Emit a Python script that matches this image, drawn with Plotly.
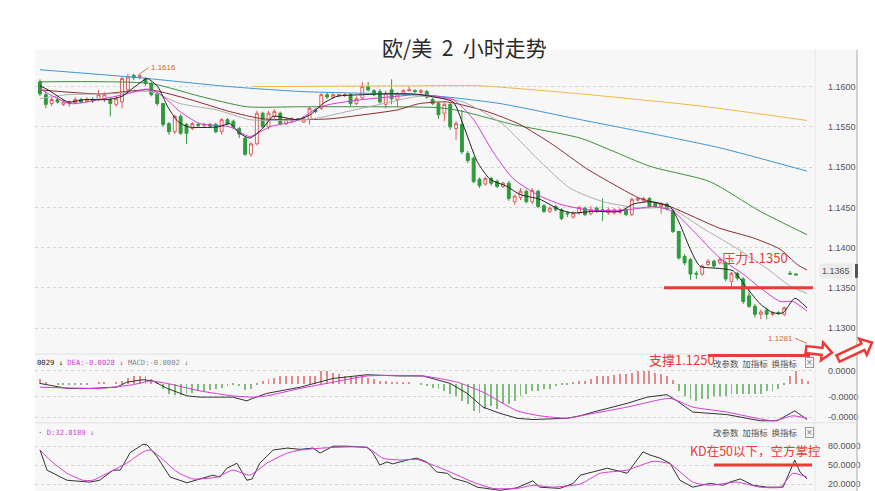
import math
import plotly.graph_objects as go

# ---------------- data ----------------
opens = [1.1606,1.1590,1.1579,1.1584,1.1578,1.1579,1.1580,1.1584,1.1582,1.1584,
         1.1584,1.1584,1.1584,1.1578,1.1581,1.1596,1.1614,1.1611,1.1610,1.1604,
         1.1591,1.1579,1.1554,1.1544,1.1563,1.1553,1.1548,1.1553,1.1552,1.1553,
         1.1553,1.1544,1.1559,1.1557,1.1548,1.1536,1.1516,1.1529,1.1567,1.1550,
         1.1563,1.1567,1.1554,1.1557,1.1560,1.1556,1.1559,1.1571,1.1573,1.1590,
         1.1587,1.1589,1.1589,1.1590,1.1579,1.1586,1.1600,1.1595,1.1594,1.1578,
         1.1596,1.1584,1.1590,1.1595,1.1595,1.1593,1.1594,1.1584,1.1579,1.1567,
         1.1578,1.1548,1.1553,1.1517,1.1511,1.1485,1.1479,1.1486,1.1482,1.1476,
         1.1480,1.1457,1.1462,1.1470,1.1457,1.1470,1.1452,1.1445,1.1451,1.1447,
         1.1443,1.1438,1.1443,1.1449,1.1442,1.1449,1.1447,1.1443,1.1443,1.1444,
         1.1447,1.1441,1.1459,1.1458,1.1461,1.1455,1.1451,1.1454,1.1445,1.1420,
         1.1389,1.1385,1.1368,1.1367,1.1379,1.1383,1.1381,1.1381,1.1358,1.1368,
         1.1361,1.1340,1.1327,1.1317,1.1322,1.1317,1.1319,1.1317,1.1368,1.1367]
highs = [1.1609,1.1594,1.1587,1.1587,1.1584,1.1583,1.1587,1.1586,1.1587,1.1587,
         1.1596,1.1593,1.1587,1.1588,1.1612,1.1616,1.1616,1.1616,1.1612,1.1606,
         1.1593,1.1580,1.1556,1.1565,1.1566,1.1555,1.1556,1.1555,1.1555,1.1555,
         1.1555,1.1561,1.1561,1.1559,1.1550,1.1538,1.1531,1.1570,1.1569,1.1570,
         1.1572,1.1569,1.1561,1.1562,1.1561,1.1563,1.1575,1.1573,1.1592,1.1593,
         1.1592,1.1591,1.1592,1.1592,1.1588,1.1606,1.1606,1.1597,1.1597,1.1595,
         1.1609,1.1593,1.1597,1.1600,1.1597,1.1597,1.1596,1.1586,1.1581,1.1580,
         1.1580,1.1557,1.1571,1.1520,1.1513,1.1487,1.1488,1.1488,1.1485,1.1482,
         1.1483,1.1466,1.1474,1.1472,1.1474,1.1472,1.1454,1.1451,1.1453,1.1449,
         1.1445,1.1445,1.1452,1.1451,1.1452,1.1451,1.1461,1.1450,1.1449,1.1449,
         1.1449,1.1462,1.1463,1.1463,1.1463,1.1457,1.1456,1.1456,1.1447,1.1421,
         1.1392,1.1387,1.1371,1.1379,1.1386,1.1385,1.1388,1.1383,1.1370,1.1370,
         1.1363,1.1350,1.1330,1.1323,1.1325,1.1321,1.1321,1.1327,1.1371,1.1368]
lows = [1.1588,1.1573,1.1576,1.1579,1.1576,1.1575,1.1578,1.1579,1.1580,1.1580,
        1.1582,1.1581,1.1563,1.1575,1.1573,1.1594,1.1608,1.1609,1.1601,1.1588,
        1.1576,1.1550,1.1540,1.1541,1.1540,1.1529,1.1546,1.1550,1.1550,1.1549,
        1.1542,1.1540,1.1552,1.1548,1.1536,1.1514,1.1513,1.1527,1.1548,1.1547,
        1.1560,1.1552,1.1552,1.1555,1.1558,1.1555,1.1553,1.1567,1.1571,1.1585,
        1.1585,1.1587,1.1587,1.1576,1.1577,1.1584,1.1594,1.1588,1.1579,1.1573,
        1.1578,1.1575,1.1588,1.1594,1.1592,1.1591,1.1585,1.1577,1.1560,1.1557,
        1.1546,1.1534,1.1516,1.1505,1.1480,1.1474,1.1477,1.1477,1.1474,1.1474,
        1.1458,1.1453,1.1459,1.1455,1.1454,1.1449,1.1443,1.1443,1.1445,1.1434,
        1.1438,1.1436,1.1441,1.1439,1.1440,1.1443,1.1433,1.1441,1.1441,1.1442,
        1.1439,1.1439,1.1457,1.1456,1.1449,1.1449,1.1442,1.1446,1.1418,1.1385,
        1.1378,1.1360,1.1361,1.1365,1.1377,1.1375,1.1379,1.1358,1.1350,1.1359,
        1.1330,1.1325,1.1313,1.1311,1.1311,1.1315,1.1316,1.1315,1.1367,1.1366]
closes = [1.1591,1.1578,1.1584,1.1581,1.1581,1.1581,1.1584,1.1581,1.1584,1.1582,
          1.1590,1.1590,1.1579,1.1585,1.1610,1.1612,1.1611,1.1614,1.1604,1.1590,
          1.1579,1.1553,1.1544,1.1563,1.1542,1.1542,1.1554,1.1552,1.1553,1.1551,
          1.1544,1.1559,1.1554,1.1550,1.1541,1.1516,1.1529,1.1567,1.1550,1.1567,
          1.1569,1.1554,1.1559,1.1560,1.1559,1.1560,1.1573,1.1569,1.1590,1.1587,
          1.1590,1.1590,1.1590,1.1579,1.1585,1.1600,1.1596,1.1590,1.1581,1.1592,
          1.1585,1.1591,1.1595,1.1596,1.1594,1.1595,1.1587,1.1579,1.1565,1.1578,
          1.1550,1.1554,1.1519,1.1508,1.1482,1.1477,1.1486,1.1480,1.1476,1.1480,
          1.1461,1.1464,1.1470,1.1457,1.1471,1.1451,1.1445,1.1449,1.1447,1.1436,
          1.1442,1.1443,1.1450,1.1441,1.1447,1.1445,1.1445,1.1447,1.1447,1.1447,
          1.1441,1.1460,1.1461,1.1461,1.1451,1.1451,1.1454,1.1448,1.1420,1.1387,
          1.1381,1.1367,1.1367,1.1377,1.1383,1.1377,1.1385,1.1361,1.1368,1.1362,
          1.1333,1.1327,1.1317,1.1320,1.1317,1.1319,1.1318,1.1325,1.1367,1.1366]
candle_idx = list(range(len(opens)))

# moving-average lines, sampled (bar index, price)
ma5_x = [0,1.4,4.8,7.7,11.6,14,16.2,18.3,20.1,21.8,23.5,25.3,30.4,32.4,34.1,35.8,38,39.8,43.9,46.1,48.3,50.7,55.1,58.5,63.7,66.6,70.5,72.2,74.6,76.8,79.7,81.9,85.3,88.7,91,94.4,99,101.2,104.1,107.5,109.2,110.9,112.6,116,118.3,120.6,122.9,125.1,126.8,128.8,130.9]
ma5_y = [1.1601,1.1596,1.1581,1.1584,1.1584,1.1588,1.1600,1.1610,1.1600,1.1575,1.1557,1.1550,1.1550,1.1554,1.1542,1.1536,1.1548,1.1563,1.1559,1.1565,1.1579,1.1588,1.1590,1.1591,1.1591,1.1588,1.1581,1.1553,1.1507,1.1485,1.1476,1.1466,1.1460,1.1447,1.1443,1.1445,1.1445,1.1454,1.1457,1.1451,1.1429,1.1399,1.1377,1.1374,1.1371,1.1350,1.1330,1.1319,1.1319,1.1337,1.1325]
ma10_x = [0,5.1,10.2,14.8,18.3,20.5,23.9,27.3,32.4,35.8,39.2,43.9,47.3,49.5,55.1,60.9,64.8,70.5,73.9,77.3,80.7,84.8,88.7,93.3,99,102.4,104.6,108,112.1,116,120,122.9,126.3,128.5,130.9]
ma10_y = [1.1597,1.1579,1.1584,1.1591,1.1597,1.1591,1.1569,1.1554,1.1550,1.1538,1.1550,1.1558,1.1573,1.1578,1.1584,1.1588,1.1590,1.1584,1.1560,1.1519,1.1486,1.1466,1.1454,1.1447,1.1446,1.1449,1.1451,1.1445,1.1416,1.1387,1.1367,1.1350,1.1333,1.1333,1.1321]
ma20_x = [0,4.6,11.9,18.8,23.9,30.2,35.8,41,46.6,52.4,58,64.8,72.2,79,84.8,90.4,96.1,102.4,107.5,113.1,118.9,124.6,128,130.9]
ma20_y = [1.1585,1.1590,1.1591,1.1594,1.1579,1.1571,1.1559,1.1558,1.1560,1.1569,1.1578,1.1588,1.1581,1.1553,1.1511,1.1474,1.1457,1.1449,1.1449,1.1424,1.1399,1.1371,1.1352,1.1343]
ma30_x = [0,10.2,18.8,25.6,32.4,38,43.9,49.5,55.1,60.9,64.8,69.5,76.3,81.9,87.5,93.3,99,102.4,107.5,116,121.7,126.3,129.2,130.9]
ma30_y = [1.1596,1.1591,1.1596,1.1584,1.1569,1.1560,1.1559,1.1560,1.1565,1.1571,1.1579,1.1581,1.1569,1.1553,1.1528,1.1498,1.1474,1.1461,1.1451,1.1424,1.1412,1.1398,1.1379,1.1372]
ma60_x = [0,18.8,27.3,35.3,44.4,67.7,71.7,80.7,92.2,104.1,114.3,122.9,130.9]
ma60_y = [1.1606,1.1604,1.1588,1.1575,1.1575,1.1574,1.1570,1.1553,1.1536,1.1501,1.1482,1.1445,1.1416]
ma120_x = [0,17.1,32.4,44.4,66.6,78.5,92.2,104.1,116,130.9]
ma120_y = [1.1621,1.1611,1.1600,1.1594,1.1589,1.1579,1.1559,1.1542,1.1524,1.1495]
ma250_x = [36.3,63.7,75.1,92.2,112.6,130.9]
ma250_y = [1.1600,1.1601,1.1601,1.1591,1.1576,1.1558]

price_ticks = [1.1300,1.1350,1.1400,1.1450,1.1500,1.1550,1.1600]
price_labels = ['1.1300','1.1350','1.1400','1.1450','1.1500','1.1550','1.1600']

# MACD panel
macd_hist = [0.0004,0.0001,0.0,-0.0001,-0.0001,-0.0001,-0.0001,-0.0001,-0.0001,0.0,
             0.0001,0.0001,0.0,0.0001,0.0002,0.0005,0.0006,0.0006,0.0006,0.0004,
             0.0001,-0.0004,-0.0008,-0.0009,-0.0009,-0.0008,-0.0007,-0.0006,-0.0006,-0.0005,
             -0.0004,-0.0003,-0.0002,-0.0001,-0.0002,-0.0005,-0.0004,-0.0001,0.0002,0.0004,
             0.0005,0.0006,0.0006,0.0006,0.0006,0.0006,0.0006,0.0006,0.0010,0.0010,
             0.0009,0.0008,0.0006,0.0006,0.0006,0.0006,0.0005,0.0004,0.0002,0.0002,
             0.0001,0.0001,0.0001,0.0001,0.0,-0.0001,-0.0002,-0.0003,-0.0004,-0.0006,
             -0.0008,-0.0010,-0.0014,-0.0016,-0.0022,-0.0023,-0.0020,-0.0018,-0.0020,-0.0016,
             -0.0016,-0.0014,-0.0010,-0.0008,-0.0006,-0.0006,-0.0004,-0.0004,-0.0002,-0.0001,
             -0.0001,0.0001,0.0002,0.0002,0.0004,0.0006,0.0006,0.0006,0.0007,0.0008,
             0.0008,0.0009,0.0010,0.0010,0.0010,0.0009,0.0008,0.0006,0.0003,-0.0006,
             -0.0010,-0.0012,-0.0014,-0.0012,-0.0012,-0.0010,-0.0010,-0.0010,-0.0008,-0.0008,
             -0.0008,-0.0008,-0.0008,-0.0008,-0.0006,-0.0006,-0.0004,-0.0001,0.0006,0.0010,
             0.0004,0.0002]
hist_idx = list(range(len(macd_hist)))
dif_x = [0,4.6,8.5,13.1,14.8,17.6,19.3,21.7,25.1,27.3,32.9,35.3,36.3,38.7,44.4,50,55.8,61.4,65.4,70,72.9,75.6,78.5,81.4,84.1,89.9,92.2,94.4,100.2,103.6,107,108.7,111.4,117.2,122.9,125.8,128.8,130.9]
dif_y = [0.0,-0.0004,-0.0004,-0.0003,0.0001,0.0003,0.0002,-0.0004,-0.0010,-0.0011,-0.0011,-0.0014,-0.0012,-0.0008,-0.0003,0.0004,0.0007,0.0006,0.0006,0.0,-0.0008,-0.0019,-0.0024,-0.0028,-0.0029,-0.0028,-0.0026,-0.0023,-0.0016,-0.0011,-0.0009,-0.0014,-0.0023,-0.0025,-0.0030,-0.0030,-0.0022,-0.0029]
dea_x = [0,10.2,15.9,18.8,21.7,27.3,32.9,36.3,38.7,44.4,50,55.8,65.4,71.2,75.6,81.4,85.3,89.9,92.2,100.2,107.5,111.4,117.2,125.1,128.5,130.9]
dea_y = [-0.0003,-0.0004,-0.0001,0.0002,0.0,-0.0006,-0.0010,-0.0011,-0.0010,-0.0004,0.0001,0.0006,0.0006,0.0001,-0.0007,-0.0022,-0.0026,-0.0028,-0.0026,-0.0019,-0.0012,-0.0019,-0.0023,-0.0030,-0.0026,-0.0028]
macd_ticks = [0.00104,-0.00104,-0.00272]
macd_labels = ['0.0000','-0.0000','-0.0000']

# KD panel
k_x = [0,1.2,4.6,8.5,10.2,12.5,13.7,15.4,17.6,18.3,20,22.2,25.1,29.5,30.7,31.9,33.6,35.3,36.2,37.5,39.8,42.2,44.4,46.6,47.8,50,52.4,55.8,56.7,58,59.2,60.2,63.1,64.3,66,67.7,69.5,70.5,72.9,74.6,78.5,81.4,84.1,85.3,88.7,91,92.2,94.4,96.8,99,100.2,102.9,104.1,105.8,107.5,109.2,111.4,114.3,116.6,117.7,119.5,121.7,124.1,126.8,128.8,129.7,130.9]
k_y = [74,42,26,23,26,42,42,70,83,82,63,31,22,34,31,45,53,26,28,53,74,77,75,77,69,80,80,78,71,50,55,52,59,61,55,39,37,29,23,15,10,14,25,15,13,21,34,39,45,40,37,71,66,61,53,26,15,21,18,23,28,18,15,15,58,39,28]
d_x = [0,1.7,4.6,7.3,9,11.9,14.8,17.6,18.8,20.5,23.4,26.1,30.2,32.9,35.8,38.7,42.2,44.4,50,55.8,58.5,61.4,64.3,67.1,70,73.9,77.3,81.4,84.1,87.5,92.2,95.6,100.2,104.6,107.5,111.4,114.3,118.9,122.9,126.3,128.5,130.9]
d_y = [74,58,37,26,26,39,53,71,74,63,39,28,31,42,34,53,69,74,78,78,61,58,59,50,39,23,13,13,18,15,20,37,42,56,52,23,18,23,15,15,37,31]
kd_ticks = [80,50,20]
kd_labels = ['80.0000','50.0000','20.0000']

last_price = 1.1365
high_mark = (17, 1.1616)
low_mark = (130.9, 1.1281)
resist_level = 1.1350
kd_level = 50

# ---------------- geometry helpers ----------------
W, H = 875, 491
ML, MR = 35, 60
PW = W - ML - MR


def px(x):
    return (x - ML) / PW


def py(y):
    return 1 - y / H


def xi(x):  # pixel x -> bar index
    return (x - 40) / 5.86


RED = '#ec3b36'
MAG = '#d43ad4'
GRID = '#d4d4d4'
LBL = dict(family='Liberation Sans, Arial', size=9, color='#555')

fig = go.Figure()

fig.add_trace(go.Candlestick(
    x=candle_idx, open=opens, high=highs, low=lows, close=closes,
    increasing=dict(line=dict(color='#e05a5a', width=1), fillcolor='#ffffff'),
    decreasing=dict(line=dict(color='#2f9a3d', width=1), fillcolor='#2f9a3d'),
    whiskerwidth=0, hoverinfo='skip', showlegend=False, xaxis='x', yaxis='y'))

for xs, ys, col in [(ma250_x, ma250_y, '#f2b64a'), (ma120_x, ma120_y, '#3d95d6'),
                    (ma60_x, ma60_y, '#3c8f3c'), (ma30_x, ma30_y, '#8e2c2c'),
                    (ma20_x, ma20_y, '#adadad'), (ma10_x, ma10_y, MAG),
                    (ma5_x, ma5_y, '#222222')]:
    fig.add_trace(go.Scatter(x=xs, y=ys, mode='lines',
                             line=dict(color=col, width=1, shape='spline', smoothing=0.6),
                             hoverinfo='skip', showlegend=False, xaxis='x', yaxis='y'))

fig.add_trace(go.Bar(x=hist_idx, y=macd_hist, width=0.16,
                     marker=dict(color=['#e08a8a' if v >= 0 else '#80bb80' for v in macd_hist],
                                 line=dict(width=0)),
                     hoverinfo='skip', showlegend=False, xaxis='x', yaxis='y2'))
fig.add_trace(go.Scatter(x=dif_x, y=dif_y, mode='lines', line=dict(color='#333', width=1),
                         hoverinfo='skip', showlegend=False, xaxis='x', yaxis='y2'))
fig.add_trace(go.Scatter(x=dea_x, y=dea_y, mode='lines',
                         line=dict(color=MAG, width=1, shape='spline', smoothing=0.5),
                         hoverinfo='skip', showlegend=False, xaxis='x', yaxis='y2'))

fig.add_trace(go.Scatter(x=k_x, y=k_y, mode='lines', line=dict(color='#333', width=1),
                         hoverinfo='skip', showlegend=False, xaxis='x', yaxis='y3'))
fig.add_trace(go.Scatter(x=d_x, y=d_y, mode='lines',
                         line=dict(color=MAG, width=1, shape='spline', smoothing=0.5),
                         hoverinfo='skip', showlegend=False, xaxis='x', yaxis='y3'))

shapes = []
# chart background
shapes.append(dict(type='rect', xref='paper', yref='paper', x0=px(35), x1=px(857),
                   y0=py(491), y1=py(48), fillcolor='#f7f7f7', line=dict(width=0), layer='below'))
# vertical separators
shapes.append(dict(type='line', xref='paper', yref='paper', x0=px(815), x1=px(815),
                   y0=py(491), y1=py(48), line=dict(color='#e6e6e6', width=1)))
shapes.append(dict(type='line', xref='paper', yref='paper', x0=px(857), x1=px(857),
                   y0=py(491), y1=py(48), line=dict(color='#c4c4c4', width=1.5)))
# horizontal panel separators
for yy in (353.5, 422.5):
    shapes.append(dict(type='line', xref='paper', yref='paper', x0=px(35), x1=px(857),
                       y0=py(yy), y1=py(yy), line=dict(color='#e2e2e2', width=1)))
# last price marker
shapes.append(dict(type='rect', xref='paper', yref='paper', x0=px(855), x1=px(858),
                   y0=py(277), y1=py(263), fillcolor='#555', line=dict(width=0)))
# resistance / support / KD lines
shapes.append(dict(type='line', xref='x', yref='y', x0=xi(664), x1=xi(813),
                   y0=resist_level, y1=resist_level, line=dict(color=RED, width=3)))
shapes.append(dict(type='line', xref='x', yref='paper', x0=xi(708), x1=xi(810),
                   y0=py(355), y1=py(355), line=dict(color=RED, width=3)))
shapes.append(dict(type='line', xref='x', yref='y3', x0=xi(714), x1=xi(812),
                   y0=kd_level, y1=kd_level, line=dict(color=RED, width=3)))


def block_arrow(x0, y0, x1, y1, sw=3.5, hw=9, hl=10):
    dx, dy = x1 - x0, y1 - y0
    L = math.hypot(dx, dy)
    ux, uy = dx / L, dy / L
    nx, ny = -uy, ux
    bx, by = x1 - ux * hl, y1 - uy * hl
    pts = [(x0 + nx * sw, y0 + ny * sw), (bx + nx * sw, by + ny * sw),
           (bx + nx * hw, by + ny * hw), (x1, y1), (bx - nx * hw, by - ny * hw),
           (bx - nx * sw, by - ny * sw), (x0 - nx * sw, y0 - ny * sw)]
    return 'M ' + ' L '.join(f'{px(a):.4f},{py(b):.4f}' for a, b in pts) + ' Z'


shapes.append(dict(type='path', xref='paper', yref='paper', path=block_arrow(806, 349, 832, 352),
                   line=dict(color=RED, width=2.5), fillcolor='rgba(255,255,255,0.9)'))
shapes.append(dict(type='path', xref='paper', yref='paper', path=block_arrow(838, 358, 872, 342),
                   line=dict(color=RED, width=2.5), fillcolor='rgba(255,255,255,0.9)'))

ann = []


def note(x, y, text, font, xanchor='center', **kw):
    d = dict(xref='paper', yref='paper', x=px(x), y=py(y), text=text, showarrow=False,
             xanchor=xanchor, yanchor='middle', font=font)
    d.update(kw)
    ann.append(d)


note(464, 45, '欧/美\u00a0\u00a02\u00a0\u00a0小时走势',
     dict(family='Noto Sans CJK SC', size=21, color='#2a2a2a'))
ann.append(dict(xref='x', yref='y', x=high_mark[0], y=high_mark[1], text='1.1616',
                showarrow=True, arrowhead=0, arrowwidth=1, arrowcolor='#d9783a',
                ax=9, ay=-6, xanchor='left', yanchor='middle',
                font=dict(family='Liberation Sans', size=8, color='#d06a2a')))
ann.append(dict(xref='x', yref='y', x=low_mark[0], y=low_mark[1], text='1.1281',
                showarrow=True, arrowhead=0, arrowwidth=1, arrowcolor='#d9783a',
                ax=-12, ay=-5, xanchor='right', yanchor='middle',
                font=dict(family='Liberation Sans', size=8, color='#d06a2a')))
note(755, 257, '压力1.1350', dict(family='Noto Sans CJK SC', size=13, color=RED))
note(682, 359, '支撑1.1250', dict(family='Noto Sans CJK SC', size=13, color=RED))
note(755, 450, 'KD在50以下，空方掌控', dict(family='Noto Sans CJK SC', size=12.5, color=RED))
# last price label
ann.append(dict(xref='paper', yref='y', x=px(836), y=last_price, yshift=5, xanchor='center',
                yanchor='middle', text='1.1365', showarrow=False, bgcolor='#ebebeb',
                borderpad=2, font=LBL))
# panel headers
note(35, 362, ('<span style="color:#222">0029 ↓ </span><span style="color:%s">DEA:-0.0028 ↓ </span>'
               '<span style="color:#888">MACD:-0.0002 ↓</span>') % MAG,
     dict(family='DejaVu Sans Mono', size=7.2), xanchor='left')
note(36, 432, '<span style="color:#444">·</span> D:32.8189 ↓',
     dict(family='DejaVu Sans Mono', size=7.2, color=MAG), xanchor='left')
for yy in (362, 432):
    note(711, yy, '改参数\u00a0\u00a0加指标\u00a0\u00a0换指标',
         dict(family='Noto Sans CJK SC', size=8.5, color='#555'), xanchor='left')
    note(809, yy, '×', dict(family='DejaVu Sans', size=8, color='#777'),
         bordercolor='#999', borderwidth=1, borderpad=0)

axis_common = dict(side='right', anchor='x', showline=False, zeroline=False, ticks='',
                   showgrid=True, gridcolor=GRID, griddash='dot', gridwidth=1,
                   tickfont=LBL, ticklabelstandoff=12, fixedrange=True)

fig.update_layout(
    width=W, height=H, margin=dict(l=ML, r=MR, t=0, b=0),
    paper_bgcolor='white', plot_bgcolor='#f7f7f7', showlegend=False, bargap=0,
    xaxis=dict(domain=[0, 1], range=[-0.85, 132.25], visible=False, anchor='y3',
               rangeslider=dict(visible=False), fixedrange=True),
    yaxis=dict(domain=[py(352), py(48)], range=[1.12695, 1.16458],
               tickvals=price_ticks, ticktext=price_labels, **axis_common),
    yaxis2=dict(domain=[py(422), py(367)], range=[-0.00312, 0.00128],
                tickvals=macd_ticks, ticktext=macd_labels, **axis_common),
    yaxis3=dict(domain=[0, py(440)], range=[8.9, 89.5],
                tickvals=kd_ticks, ticktext=kd_labels, **axis_common),
    shapes=shapes, annotations=ann,
)

fig.write_html('out.html', config={'displayModeBar': False},
               post_script="document.body.style.margin='0';document.body.style.overflow='hidden';")
